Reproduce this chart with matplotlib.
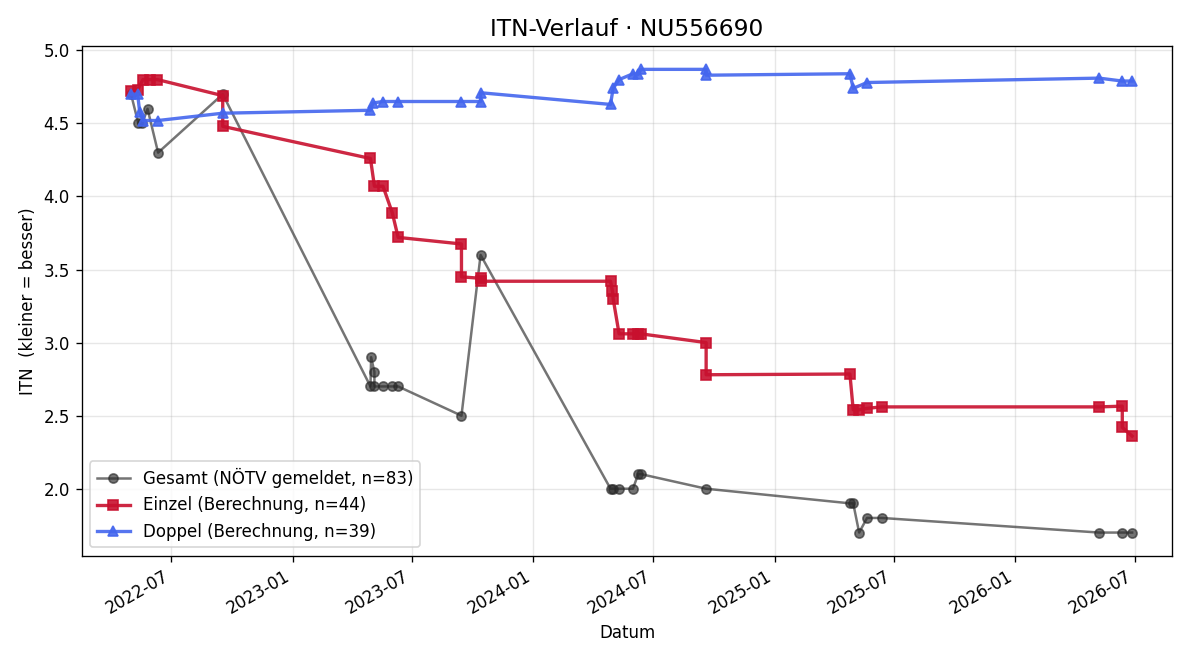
import matplotlib
matplotlib.use("Agg")
import matplotlib.pyplot as plt
import matplotlib.dates as mdates
import pandas as pd

# Gesamt (NÖTV gemeldet)
gesamt_dates = ["2022-05-01", "2022-05-12", "2022-05-18", "2022-05-26", "2022-06-11",
                "2022-09-17", "2023-04-29", "2023-04-30", "2023-05-05", "2023-05-05",
                "2023-05-18", "2023-06-01", "2023-06-10", "2023-09-14", "2023-10-13",
                "2024-04-27", "2024-05-01", "2024-05-10", "2024-05-31", "2024-06-08",
                "2024-06-12", "2024-09-19", "2025-04-25", "2025-04-30", "2025-05-09",
                "2025-05-21", "2025-06-12", "2026-05-08", "2026-06-12", "2026-06-27"]
gesamt_itn = [4.7, 4.5, 4.5, 4.6, 4.3,
              4.7, 2.7, 2.9, 2.8, 2.7,
              2.7, 2.7, 2.7, 2.5, 3.6,
              2.0, 2.0, 2.0, 2.0, 2.1,
              2.1, 2.0, 1.9, 1.9, 1.7,
              1.8, 1.8, 1.7, 1.7, 1.7]

# Einzel (Berechnung)
einzel_dates = ["2022-05-01", "2022-05-11", "2022-05-19", "2022-05-29", "2022-06-10",
                "2022-09-17", "2022-09-17", "2023-04-29", "2023-05-05", "2023-05-18",
                "2023-06-01", "2023-06-10", "2023-09-14", "2023-09-14", "2023-10-13",
                "2023-10-13", "2024-04-27", "2024-04-30", "2024-05-01", "2024-05-10",
                "2024-05-31", "2024-06-08", "2024-06-12", "2024-09-19", "2024-09-19",
                "2025-04-25", "2025-04-30", "2025-05-09", "2025-05-21", "2025-06-12",
                "2026-05-08", "2026-06-12", "2026-06-12", "2026-06-27"]
einzel_itn = [4.72, 4.73, 4.80, 4.80, 4.80,
              4.69, 4.48, 4.26, 4.07, 4.07,
              3.89, 3.72, 3.675, 3.45, 3.44,
              3.42, 3.42, 3.35, 3.30, 3.06,
              3.06, 3.06, 3.06, 3.00, 2.78,
              2.785, 2.54, 2.54, 2.55, 2.56,
              2.56, 2.565, 2.42, 2.36]

# Doppel (Berechnung)
doppel_dates = ["2022-05-01", "2022-05-11", "2022-05-14", "2022-05-19", "2022-06-11",
                "2022-09-17", "2023-04-29", "2023-05-03", "2023-05-18", "2023-06-10",
                "2023-09-14", "2023-10-13", "2023-10-13", "2024-04-27", "2024-05-01",
                "2024-05-10", "2024-05-31", "2024-06-08", "2024-06-12", "2024-09-19",
                "2024-09-19", "2025-04-25", "2025-04-30", "2025-05-21", "2026-05-08",
                "2026-06-12", "2026-06-27"]
doppel_itn = [4.70, 4.70, 4.58, 4.52, 4.52,
              4.57, 4.59, 4.64, 4.65, 4.65,
              4.65, 4.65, 4.71, 4.63, 4.74,
              4.80, 4.84, 4.835, 4.87, 4.87,
              4.83, 4.84, 4.74, 4.78, 4.81,
              4.79, 4.79]

fig, ax = plt.subplots(figsize=(10, 5.5), dpi=120)

ax.plot(pd.to_datetime(gesamt_dates), gesamt_itn, marker="o", markersize=5.5,
        linewidth=1.5, color="#2a2a2a", alpha=0.65, label="Gesamt (NÖTV gemeldet, n=83)")
ax.plot(pd.to_datetime(einzel_dates), einzel_itn, marker="s", markersize=6.5,
        linewidth=2, color="#c8102e", alpha=0.9, label="Einzel (Berechnung, n=44)")
ax.plot(pd.to_datetime(doppel_dates), doppel_itn, marker="^", markersize=6.5,
        linewidth=2, color="#4466ee", alpha=0.9, label="Doppel (Berechnung, n=39)")

ax.set_title("ITN-Verlauf · NU556690", fontsize=14)
ax.set_xlabel("Datum")
ax.set_ylabel("ITN  (kleiner = besser)")
ax.grid(True, alpha=0.3)
ax.legend(loc="lower left")

ax.xaxis.set_major_locator(mdates.MonthLocator(bymonth=[1, 7]))
ax.xaxis.set_major_formatter(mdates.DateFormatter("%Y-%m"))
ax.set_xlim(pd.Timestamp("2022-02-15"), pd.Timestamp("2026-08-27"))
fig.autofmt_xdate()

fig.subplots_adjust(left=0.068, right=0.977, top=0.930, bottom=0.158)
fig.savefig("out.png")
